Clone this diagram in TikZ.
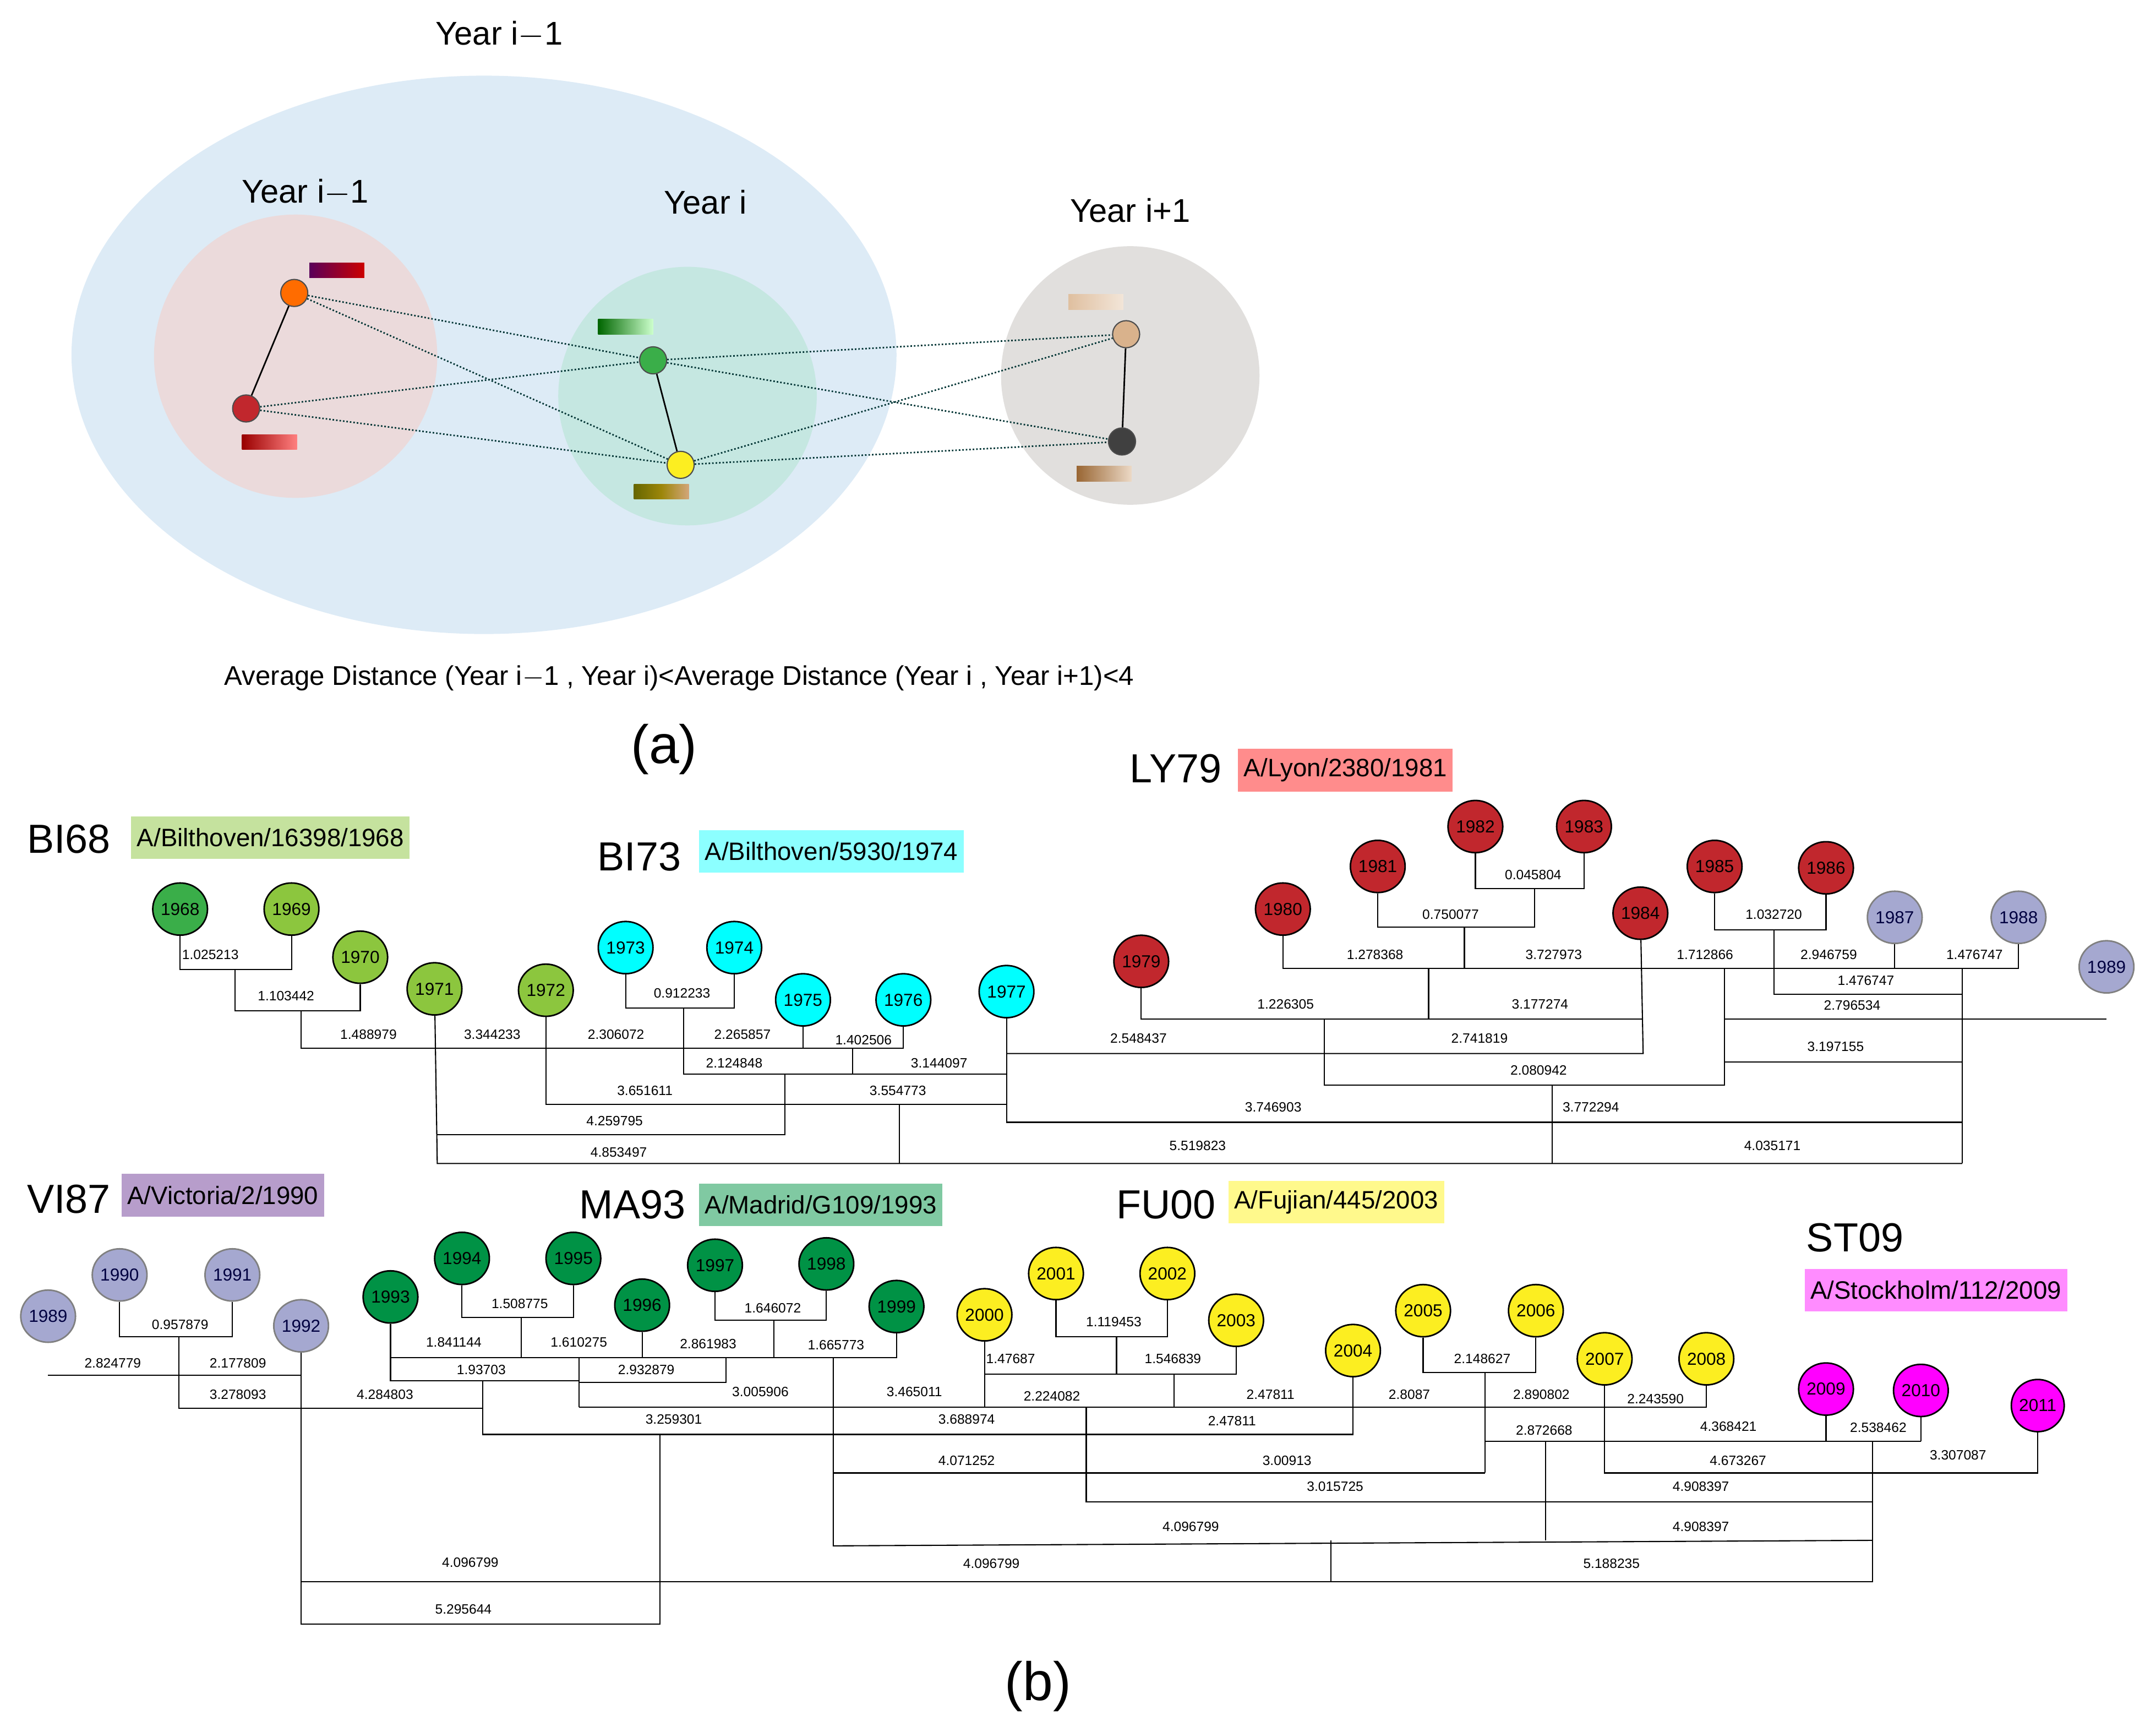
\documentclass[tikz,border=0pt]{standalone}
\usepackage{fontspec}
\setmainfont{Liberation Sans}
\usetikzlibrary{shapes,arrows,positioning,calc}
\definecolor{skyblue}{HTML}{DDEBF6}
\definecolor{rosy}{HTML}{EBDADB}
\definecolor{mint}{HTML}{C5E7E1}
\definecolor{stone}{HTML}{E1DFDD}
\definecolor{leaf}{HTML}{8CC63E}
\definecolor{forest}{HTML}{009245}
\definecolor{grass}{HTML}{3AAE49}
\definecolor{brick}{HTML}{C1272D}
\definecolor{lilac}{HTML}{A5A8D0}
\definecolor{lemon}{HTML}{FCEE21}
\definecolor{aqua}{HTML}{00FFFF}
\definecolor{fuchsia}{HTML}{FF00FF}
\definecolor{plum}{HTML}{B79DCB}
\tikzstyle{yr} = [ellipse,draw,line width=0.8pt,minimum width=24pt,minimum height=27pt,inner sep=0pt,font=\fontsize{9}{10}\selectfont]
\tikzstyle{len} = [font=\fontsize{7}{8}\selectfont,inner sep=1pt]
\tikzstyle{head} = [font=\fontsize{21}{24}\selectfont,inner sep=0pt]
\tikzstyle{tag} = [font=\fontsize{13}{15}\selectfont,inner sep=3pt,minimum height=22pt]
\tikzstyle{pt} = [circle,draw=black!70,inner sep=0pt,minimum size=14pt]
\tikzstyle{lilyr} = [yr,fill=lilac,draw=gray,text=blue!25!black]

\begin{document}
\begin{tikzpicture}[x=0.25mm,y=-0.25mm,line width=0.6pt]
    \useasboundingbox (0,0) rectangle (1568,1259);

    % (a) clusters
    \fill [skyblue] (352,258) ellipse [x radius=300,y radius=203];
    \fill [rosy] (215,259) circle [radius=103];
    \fill [mint] (500,288) circle [radius=94];
    \fill [stone] (822,273) circle [radius=94];
    \node [font=\fontsize{17}{20}\selectfont] (tall) at (363,25) {Year i$-$1};
    \node [font=\fontsize{17}{20}\selectfont] (tprev) at (222,140) {Year i$-$1};
    \node [font=\fontsize{17}{20}\selectfont] (tcur) at (513,147) {Year i};
    \node [font=\fontsize{17}{20}\selectfont] (tnext) at (822,153) {Year i+1};

    \node [pt,fill=orange!85!red] (p1) at (214,213) {};
    \node [pt,fill=brick] (p2) at (179,297) {};
    \node [pt,fill=grass] (p3) at (475,262) {};
    \node [pt,fill=lemon] (p4) at (495,338) {};
    \node [pt,fill=brown!60!white] (p5) at (819,243) {};
    \node [pt,fill=black!75] (p6) at (816,321) {};
    \draw [thick] (p1) -- (p2);
    \draw [thick] (p3) -- (p4);
    \draw [thick] (p5) -- (p6);
    \foreach \a/\b in {p1/p3,p1/p4,p2/p3,p2/p4,p3/p5,p3/p6,p4/p5,p4/p6}
      \draw [densely dotted,thick,teal!40!black] (\a) -- (\b);

    \shade [left color=violet!70!black,right color=red!80!black] (225,191) rectangle (265,202);
    \shade [left color=red!60!black,right color=red!50!white] (176,316) rectangle (216,327);
    \shade [left color=green!40!black,right color=green!20!white] (435,232) rectangle (475,243);
    \shade [left color=olive!80!black,right color=brown!70!white] (461,352) rectangle (501,363);
    \shade [left color=brown!50!white,right color=brown!20!white] (777,214) rectangle (817,225);
    \shade [left color=brown!80!black,right color=brown!30!white] (783,339) rectangle (823,350);

    \node [font=\fontsize{14}{16}\selectfont] (rule) at (494,493) {Average Distance (Year i$-$1 , Year i)<Average Distance (Year i , Year i+1)<4};
    \node [font=\fontsize{28}{32}\selectfont] (capa) at (483,545) {(a)};

    % (b) headings
    \node [head] (hBI68) at (50,610) {BI68};
    \node [tag,fill=leaf!50!white,anchor=west] (sBI68) at (95,609) {A/Bilthoven/16398/1968};
    \node [head] (hBI73) at (465,623) {BI73};
    \node [tag,fill=aqua!45!white,anchor=west] (sBI73) at (508,619) {A/Bilthoven/5930/1974};
    \node [head] (hLY79) at (855,559) {LY79};
    \node [tag,fill=red!45!white,anchor=west] (sLY79) at (900,560) {A/Lyon/2380/1981};
    \node [head] (hVI87) at (50,872) {VI87};
    \node [tag,fill=plum,anchor=west] (sVI87) at (88,869) {A/Victoria/2/1990};
    \node [head] (hMA93) at (460,876) {MA93};
    \node [tag,fill=forest!50!white,anchor=west] (sMA93) at (508,876) {A/Madrid/G109/1993};
    \node [head] (hFU00) at (848,876) {FU00};
    \node [tag,fill=yellow!45!white,anchor=west] (sFU00) at (893,874) {A/Fujian/445/2003};
    \node [head] (hST09) at (1349,900) {ST09};
    \node [tag,fill=fuchsia!45!white,anchor=west] (sST09) at (1312,938) {A/Stockholm/112/2009};
    \node [font=\fontsize{28}{32}\selectfont] (capb) at (755,1226) {(b)};

    % (b) years
    \foreach \n/\x/\y/\c in {1968/131/661/grass,1969/212/661/leaf,1970/262/696/leaf,1971/316/719/leaf,1972/397/720/leaf,
      1973/455/689/aqua,1974/534/689/aqua,1975/584/727/aqua,1976/657/727/aqua,1977/732/721/aqua,
      1979/830/699/brick,1980/933/661/brick,1981/1002/630/brick,1982/1073/601/brick,1983/1152/601/brick,
      1984/1193/664/brick,1985/1247/630/brick,1986/1328/631/brick,
      1993/284/943/forest,1994/336/915/forest,1995/417/915/forest,1996/467/949/forest,1997/520/920/forest,
      1998/601/919/forest,1999/652/950/forest,2000/716/956/lemon,2001/768/926/lemon,2002/849/926/lemon,
      2003/899/960/lemon,2004/984/982/lemon,2005/1035/953/lemon,2006/1117/953/lemon,2007/1167/988/lemon,
      2008/1241/988/lemon,2009/1328/1010/fuchsia,2010/1397/1011/fuchsia,2011/1482/1022/fuchsia}
      \node [yr,fill=\c] (n\n) at (\x,\y) {\n};
    \foreach \n/\x/\y in {1987/1378/667,1988/1468/667,1989/1532/703,1990/87/927,1991/169/927,1992/219/964}
      \node [lilyr] (n\n) at (\x,\y) {\n};
    \node [lilyr] (m1989) at (35,957) {1989};

    % top tree
    \draw (n1968) |- (171,705) coordinate (a1) -| (n1969);
    \draw (a1) |- (219,735) coordinate (a2) -| (n1970);
    \draw (a2) -- (219,762) -- (657,762) -- (n1976);
    \draw (n1975) -- (584,762);
    \draw (n1971) -- (318,846) -- (1427,846);
    \draw (n1972) -- (397,803) -- (732,803);
    \draw (n1973) |- (497,733) coordinate (b1) -| (n1974);
    \draw (b1) -- (497,781) -- (732,781);
    \draw (620,762) -- (620,781);
    \draw (571,781) -- (571,825) -- (318,825);
    \draw (654,803) -- (654,846);
    \draw (n1977) -- (732,816) -- (1427,816);
    \draw (n1982) |- (1116,646) coordinate (e1) -| (n1983);
    \draw (n1981) |- (1065,674) coordinate (e2) -| (e1);
    \draw (n1980) |- (1378,704) -- (n1987);
    \draw (e2) -- (1065,704);
    \draw (n1987) |- (1427,704) coordinate (e5) -| (n1988);
    \draw (e5) -- (1427,846);
    \draw (n1985) |- (1290,676) coordinate (f1) -| (n1986);
    \draw (f1) -- (1290,723) -- (1427,723);
    \draw (n1979) |- (1195,741);
    \draw (1039,704) -- (1039,741);
    \draw (n1984) -- (1195,766) -- (732,766);
    \draw (963,741) -- (963,789) -- (1254,789) -- (1254,704);
    \draw (1254,741) -- (1532,741);
    \draw (1254,772) -- (1427,772);
    \draw (1129,789) -- (1129,846);
    \foreach \t/\x/\y in {1.025213/153/694,1.103442/208/724,1.488979/268/752,3.344233/358/752,2.306072/448/752,
      2.265857/540/752,1.402506/628/756,0.912233/496/722,2.124848/534/773,3.144097/683/773,3.651611/469/793,
      3.554773/653/793,4.259795/447/815,4.853497/450/838,5.519823/871/833,4.035171/1289/833,3.746903/926/805,
      3.772294/1157/805,0.045804/1115/636,0.750077/1055/665,1.278368/1000/694,3.727973/1130/694,1.712866/1240/694,
      2.946759/1330/694,1.476747/1436/694,1.032720/1290/665,1.476747/1357/713,1.226305/935/730,3.177274/1120/730,
      2.548437/828/755,2.741819/1076/755,2.080942/1119/778,2.796534/1347/731,3.197155/1335/761}
      \node [len] at (\x,\y) {\t};

    % bottom tree
    \draw (n1990) |- (130,972) coordinate (h1) -| (n1991);
    \draw (35,1000) -- (219,1000);
    \draw (h1) |- (219,1024) -- (351,1024);
    \draw (n1992) -- (219,1181) -- (480,1181) -- (480,1043);
    \draw (n1994) |- (379,958) coordinate (i1) -| (n1995);
    \draw (i1) -- (379,987);
    \draw (n1993) -- (284,1004) -- (421,1004);
    \draw (284,987) -- (652,987) -- (n1999);
    \draw (n1996) -- (467,987);
    \draw (n1997) |- (563,960) coordinate (i3) -| (n1998);
    \draw (i3) -- (563,987);
    \draw (421,987) -- (421,1023);
    \draw (421,1005) -- (528,1005) -- (528,987);
    \draw (421,1023) -- (1241,1023) -- (n2008);
    \draw (351,1004) -- (351,1043) -- (984,1043) -- (n2004);
    \draw (n2000) -- (716,1023);
    \draw (716,999) -- (899,999) -- (n2003);
    \draw (n2001) |- (812,972) coordinate (j1) -| (n2002);
    \draw (j1) -- (812,999);
    \draw (854,999) -- (854,1023);
    \draw (n2005) |- (1080,998) coordinate (k1) -| (n2006);
    \draw (k1) -- (1080,1071);
    \draw (1080,1048) -- (1397,1048);
    \draw (n2009) -- (1328,1048);
    \draw (n2010) -- (1397,1048);
    \draw (606,987) -- (606,1124) -- (1362,1120);
    \draw (606,1071) -- (1080,1071);
    \draw (n2007) |- (1482,1071) -- (n2011);
    \draw (1362,1048) -- (1362,1150) -- (219,1150);
    \draw (790,1023) -- (790,1092) -- (1362,1092);
    \draw (1124,1048) -- (1124,1120);
    \draw (968,1120) -- (968,1150);
    \foreach \t/\x/\y in {0.957879/131/963,2.824779/82/991,2.177809/173/991,3.278093/173/1014,1.508775/378/948,
      1.841144/330/976,1.610275/421/976,2.861983/515/977,1.665773/608/978,1.646072/562/951,1.93703/350/996,
      2.932879/470/996,3.005906/553/1012,3.465011/665/1012,2.224082/765/1015,2.47811/924/1014,2.8087/1025/1014,
      2.890802/1121/1014,2.243590/1204/1017,4.284803/280/1014,3.259301/490/1032,3.688974/703/1032,2.47811/896/1033,
      1.47687/735/988,1.546839/853/988,1.119453/810/961,2.148627/1078/988,2.872668/1123/1040,4.368421/1257/1037,
      2.538462/1366/1038,3.00913/936/1062,4.071252/703/1062,4.673267/1264/1062,3.307087/1424/1058,3.015725/971/1081,
      4.908397/1237/1081,4.096799/866/1110,4.908397/1237/1110,5.295644/337/1170,4.096799/342/1136,4.096799/721/1137,
      5.188235/1172/1137}
      \node [len] at (\x,\y) {\t};
\end{tikzpicture}
\end{document}
